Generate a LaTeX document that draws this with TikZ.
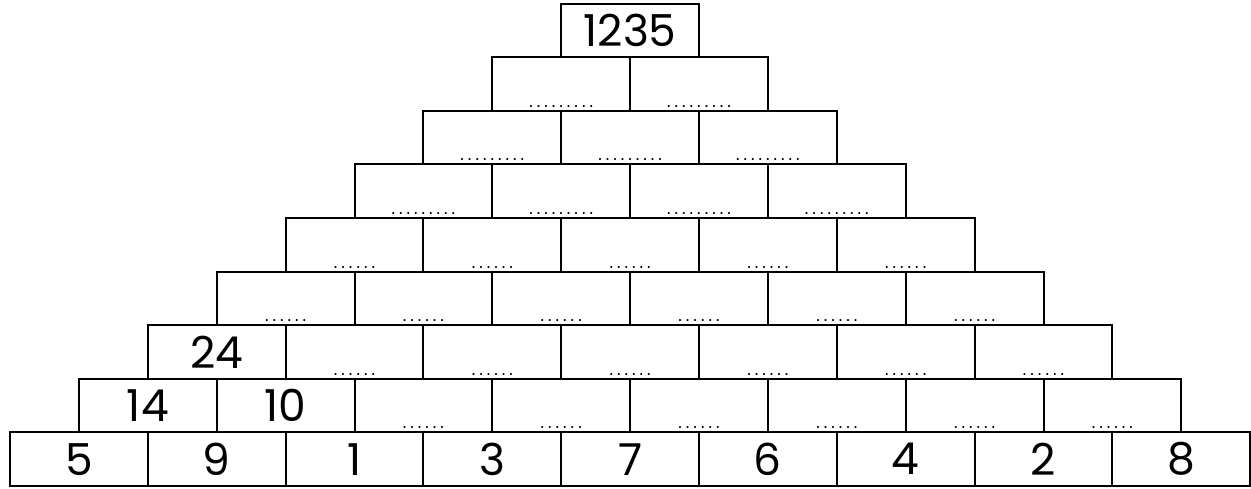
\documentclass[tikz,border=0pt]{standalone}
\usepackage{fontspec}
\setmainfont{Poppins}
\newfontfamily\dotfont[LetterSpace=14]{Liberation Sans}
\begin{document}
\begin{tikzpicture}[x=1pt,y=1pt,
  brick/.style={draw, line width=2pt, minimum width=137.8pt, minimum height=53.6pt, inner sep=0pt, anchor=south west},
  num/.style={inner sep=0pt, font=\fontsize{44}{44}\selectfont},
  dotlabel/.style={inner sep=0pt, anchor=base, font=\dotfont\fontsize{18}{18}\selectfont}]
\useasboundingbox (0,0) rectangle (1251,488);
% bricks
\foreach \r in {1,...,9} {
  \pgfmathtruncatemacro\n{10-\r}
  \foreach \i in {1,...,\n} {
    \node[brick] (b-\r-\i) at ({9+(\r-1)*68.9+(\i-1)*137.8}, {1+(\r-1)*53.6}) {};
  }
}
% numbers
\foreach \t [count=\i] in {5,9,1,3,7,6,4,2,8}
  \node[num] (n-1-\i) at (b-1-\i.center) {\t};
\node[num] (n-2-1) at (b-2-1.center) {14};
\node[num] (n-2-2) at (b-2-2.center) {10};
\node[num] (n-3-1) at (b-3-1.center) {24};
\node[num] (n-9-1) at (b-9-1.center) {1235};
% dots
\foreach \i in {3,...,8}
  \node[dotlabel] (d-2-\i) at ([yshift=4.5pt]b-2-\i.south) {......};
\foreach \i in {2,...,7}
  \node[dotlabel] (d-3-\i) at ([yshift=4.5pt]b-3-\i.south) {......};
\foreach \i in {1,...,6}
  \node[dotlabel] (d-4-\i) at ([yshift=4.5pt]b-4-\i.south) {......};
\foreach \i in {1,...,5}
  \node[dotlabel] (d-5-\i) at ([yshift=4.5pt]b-5-\i.south) {......};
\foreach \i in {1,...,4}
  \node[dotlabel] (d-6-\i) at ([yshift=4.5pt]b-6-\i.south) {.........};
\foreach \i in {1,...,3}
  \node[dotlabel] (d-7-\i) at ([yshift=4.5pt]b-7-\i.south) {.........};
\foreach \i in {1,...,2}
  \node[dotlabel] (d-8-\i) at ([yshift=4.5pt]b-8-\i.south) {.........};
\end{tikzpicture}
\end{document}
